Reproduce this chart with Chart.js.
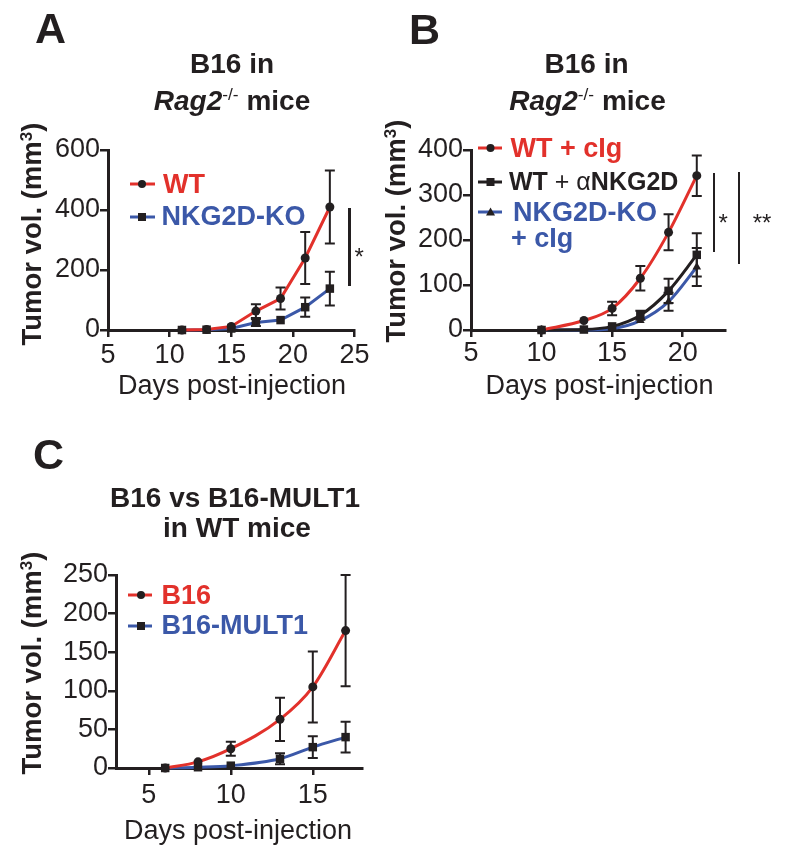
<!DOCTYPE html>
<html><head><meta charset="utf-8">
<script src="https://cdn.jsdelivr.net/npm/chart.js@4.4.1/dist/chart.umd.min.js"></script>
<style>
html,body{margin:0;padding:0;background:#fff;}
body{width:785px;height:853px;position:relative;overflow:hidden;font-family:'Liberation Sans',Arial,Helvetica,sans-serif;color:#231f20;}
canvas{position:absolute;}
.t{position:absolute;white-space:nowrap;line-height:32px;height:32px;}
.c{text-align:center;width:400px;}
.letter{font-size:43px;font-weight:bold;line-height:50px;height:50px;}
.ttl{font-size:28px;font-weight:bold;}
.sup{font-size:0.62em;font-weight:normal;position:relative;top:-0.55em;}
.sup3{font-size:0.62em;position:relative;top:-0.55em;}
.yt{position:absolute;white-space:nowrap;font-size:27.5px;font-weight:bold;line-height:32px;transform:translate(-50%,-50%) rotate(-90deg);}
.xt{font-size:27px;}
.lg{font-size:27px;font-weight:bold;}
.n{font-weight:normal;}
.red{color:#e2312b;}
.blue{color:#3b58a8;}
.sig{position:absolute;background:#231f20;width:2.5px;}
.star{font-size:24px;}
svg{position:absolute;overflow:visible;}
</style></head><body>

<canvas id="cA" width="390" height="400" style="left:0;top:0"></canvas>
<canvas id="cB" width="395" height="400" style="left:390px;top:0"></canvas>
<canvas id="cC" width="390" height="453" style="left:0;top:400px"></canvas>

<!-- Panel A -->
<div class="t letter" style="left:35px;top:3px">A</div>
<div class="t c ttl" style="left:32px;top:48px">B16 in</div>
<div class="t c ttl" style="left:32px;top:85px"><i>Rag2</i><span class="sup">-/-</span> mice</div>
<div class="yt" style="left:33.5px;top:234px">Tumor vol. (mm<span class="sup3">3</span>)</div>
<div class="t c xt" style="left:32px;top:369px">Days post-injection</div>
<svg style="left:128px;top:176px" width="30" height="16"><line x1="2" y1="8" x2="27" y2="8" stroke="#e2312b" stroke-width="3"/><circle cx="14" cy="8" r="4" fill="#231f20"/></svg>
<div class="t lg red" style="left:163px;top:168px">WT</div>
<svg style="left:128px;top:208.5px" width="30" height="16"><line x1="2" y1="8" x2="27" y2="8" stroke="#3b58a8" stroke-width="3"/><rect x="10" y="4" width="8" height="8" fill="#231f20"/></svg>
<div class="t lg blue" style="left:161.5px;top:200px">NKG2D-KO</div>
<div class="sig" style="left:348px;top:208px;height:78px"></div>
<div class="t star" style="left:354.5px;top:240.6px">*</div>

<!-- Panel B -->
<div class="t letter" style="left:409px;top:4px">B</div>
<div class="t c ttl" style="left:386.5px;top:48px">B16 in</div>
<div class="t c ttl" style="left:387.5px;top:85px"><i>Rag2</i><span class="sup">-/-</span> mice</div>
<div class="yt" style="left:398px;top:231px">Tumor vol. (mm<span class="sup3">3</span>)</div>
<div class="t c xt" style="left:399.5px;top:369px">Days post-injection</div>
<svg style="left:476px;top:140px" width="30" height="16"><line x1="2" y1="8" x2="26" y2="8" stroke="#e2312b" stroke-width="3"/><circle cx="14.5" cy="8" r="4" fill="#231f20"/></svg>
<div class="t lg red" style="left:510.5px;top:131.5px">WT + cIg</div>
<svg style="left:476px;top:173.7px" width="30" height="16"><line x1="2" y1="8" x2="26" y2="8" stroke="#231f20" stroke-width="3"/><rect x="10.5" y="4" width="8" height="8" fill="#231f20"/></svg>
<div class="t lg" style="left:509px;top:165px;font-size:25px">WT <span class="n">+ α</span>NKG2D</div>
<svg style="left:476px;top:203.7px" width="30" height="16"><line x1="2" y1="8" x2="26" y2="8" stroke="#3b58a8" stroke-width="3"/><polygon points="14.5,3.5 19,11.5 10,11.5" fill="#231f20"/></svg>
<div class="t lg blue" style="left:513px;top:195.5px">NKG2D-KO</div>
<div class="t lg blue" style="left:511px;top:222px">+ cIg</div>
<div class="sig" style="left:712.8px;top:173px;height:79px"></div>
<div class="t star" style="left:718.5px;top:206.6px">*</div>
<div class="sig" style="left:737.8px;top:172px;height:92px"></div>
<div class="t star" style="left:752.7px;top:206.6px">**</div>

<!-- Panel C -->
<div class="t letter" style="left:33px;top:429px">C</div>
<div class="t c ttl" style="left:35px;top:481.5px">B16 vs B16-MULT1</div>
<div class="t c ttl" style="left:37px;top:511.5px">in WT mice</div>
<div class="yt" style="left:34px;top:663px">Tumor vol. (mm<span class="sup3">3</span>)</div>
<div class="t c xt" style="left:38px;top:814px">Days post-injection</div>
<svg style="left:126px;top:587px" width="30" height="16"><line x1="2" y1="8" x2="26" y2="8" stroke="#e2312b" stroke-width="3"/><circle cx="15" cy="8" r="4" fill="#231f20"/></svg>
<div class="t lg red" style="left:161.5px;top:579px">B16</div>
<svg style="left:126px;top:618px" width="30" height="16"><line x1="2" y1="8" x2="26" y2="8" stroke="#3b58a8" stroke-width="3"/><rect x="11" y="4" width="8" height="8" fill="#231f20"/></svg>
<div class="t lg blue" style="left:161.5px;top:609px">B16-MULT1</div>

<script>
const FONT = "'Liberation Sans', Arial, Helvetica, sans-serif";
const INK = '#231f20';
const RED = '#e2312b';
const BLUE = '#3b58a8';

// ---- Panel A data ----
const daysA = [11, 13, 15, 17, 19, 21, 23];
const wtA = [0, 2, 12, 63, 105, 240, 410];
const wtErrA = [0, 2, 7, 23, 37, 87, 122];
const koA = [0, 1, 5, 25, 33, 76, 138];
const koErrA = [0, 1, 3, 12, 10, 32, 56];
const xTicksA = [5, 10, 15, 20, 25];
const yTicksA = [0, 200, 400, 600];

// ---- Panel B data ----
const daysB = [10, 13, 15, 17, 19, 21];
const wtCigB = [0, 21, 48, 115, 217, 343];
const wtCigErrB = [0, 0, 15, 27, 40, 45];
const wtAntiB = [0, 1, 8, 33, 87, 167];
const wtAntiErrB = [0, 1, 4, 10, 27, 48];
const koCigB = [0, 0, 3, 21, 63, 140];
const koCigErrB = [0, 0, 2, 7, 20, 42];
const xTicksB = [5, 10, 15, 20];
const yTicksB = [0, 100, 200, 300, 400];

// ---- Panel C data ----
const daysC = [6, 8, 10, 13, 15, 17];
const b16C = [0, 8, 25, 63, 105, 178];
const b16ErrC = [0, 3, 9, 28, 46, 72];
const multC = [0, 1, 3, 12, 27, 40];
const multErrC = [0, 1, 1, 7, 14, 20];
const xTicksC = [5, 10, 15];
const yTicksC = [0, 50, 100, 150, 200, 250];

const pts = (xs, ys) => xs.map((x, i) => ({ x: x, y: ys[i] }));

const errorBars = {
  id: 'errorBars',
  afterDatasetsDraw(chart) {
    const ctx = chart.ctx, ys = chart.scales.y;
    ctx.save();
    ctx.strokeStyle = INK;
    ctx.lineWidth = 2;
    chart.data.datasets.forEach((ds, i) => {
      if (!ds.errors) return;
      const meta = chart.getDatasetMeta(i);
      meta.data.forEach((el, j) => {
        const e = ds.errors[j];
        if (!e) return;
        const v = ds.data[j].y;
        const top = ys.getPixelForValue(v + e);
        const bot = ys.getPixelForValue(v - e);
        if ((bot - top) / 2 < 3.5) return;
        const x = el.x, w = 5;
        ctx.beginPath();
        ctx.moveTo(x, top); ctx.lineTo(x, bot);
        ctx.moveTo(x - w, top); ctx.lineTo(x + w, top);
        ctx.moveTo(x - w, bot); ctx.lineTo(x + w, bot);
        ctx.stroke();
      });
    });
    ctx.restore();
  }
};

function scaleCfg(min, max, ticksArr, horizontal, fitSize, tl, pad) {
  return {
    type: 'linear', min: min, max: max,
    afterBuildTicks: s => { s.ticks = ticksArr.map(v => ({ value: v })); },
    afterFit: s => { if (horizontal) s.height = fitSize; else s.width = fitSize; },
    border: { display: true, color: INK, width: 3 },
    grid: { display: true, drawOnChartArea: false, drawTicks: true, tickLength: tl, tickWidth: 2.5, tickColor: INK, color: INK, lineWidth: 2.5 },
    ticks: { color: INK, font: { family: FONT, size: 27 }, padding: pad, autoSkip: false, maxRotation: 0, minRotation: 0 },
    title: { display: false }
  };
}

function ds(data, errors, color, style, radius, mono) {
  return {
    data: data, errors: errors,
    borderColor: color, borderWidth: 3,
    pointStyle: style, pointRadius: radius,
    pointBackgroundColor: INK, pointBorderColor: INK, pointBorderWidth: 0,
    fill: false, clip: false,
    tension: mono ? 0.4 : 0,
    cubicInterpolationMode: mono ? 'monotone' : 'default'
  };
}

function makeChart(id, datasets, xs, ysc, padding) {
  return new Chart(document.getElementById(id), {
    type: 'line',
    data: { datasets: datasets },
    options: {
      responsive: false, animation: false, devicePixelRatio: 1, events: [],
      layout: { padding: padding },
      plugins: { legend: { display: false }, tooltip: { enabled: false }, title: { display: false } },
      scales: { x: xs, y: ysc }
    },
    plugins: [errorBars]
  });
}

makeChart('cA',
  [ds(pts(daysA, wtA), wtErrA, RED, 'circle', 4.5, false),
   ds(pts(daysA, koA), koErrA, BLUE, 'rect', 6, false)],
  scaleCfg(5, 25, xTicksA, true, 45, 7, 2),
  scaleCfg(0, 600, yTicksA, false, 80, 8, 0),
  { left: 28, right: 35.5, top: 150, bottom: 25 });

makeChart('cB',
  [ds(pts(daysB, wtCigB), wtCigErrB, RED, 'circle', 4.5, true),
   ds(pts(daysB, wtAntiB), wtAntiErrB, INK, 'rect', 6, true),
   ds(pts(daysB, koCigB), koCigErrB, BLUE, 'triangle', 5, true)],
  scaleCfg(5, 23, xTicksB, true, 45, 7, 0),
  scaleCfg(0, 400, yTicksB, false, 75, 8, 0),
  { left: 6, right: 60, top: 150, bottom: 25 });

makeChart('cC',
  [ds(pts(daysC, b16C), b16ErrC, RED, 'circle', 4.5, true),
   ds(pts(daysC, multC), multErrC, BLUE, 'rect', 6, true)],
  scaleCfg(3, 18, xTicksC, true, 50, 7, 4),
  scaleCfg(0, 250, yTicksC, false, 80, 8, 0),
  { left: 36, right: 28, top: 175, bottom: 35 });
</script>
</body></html>
